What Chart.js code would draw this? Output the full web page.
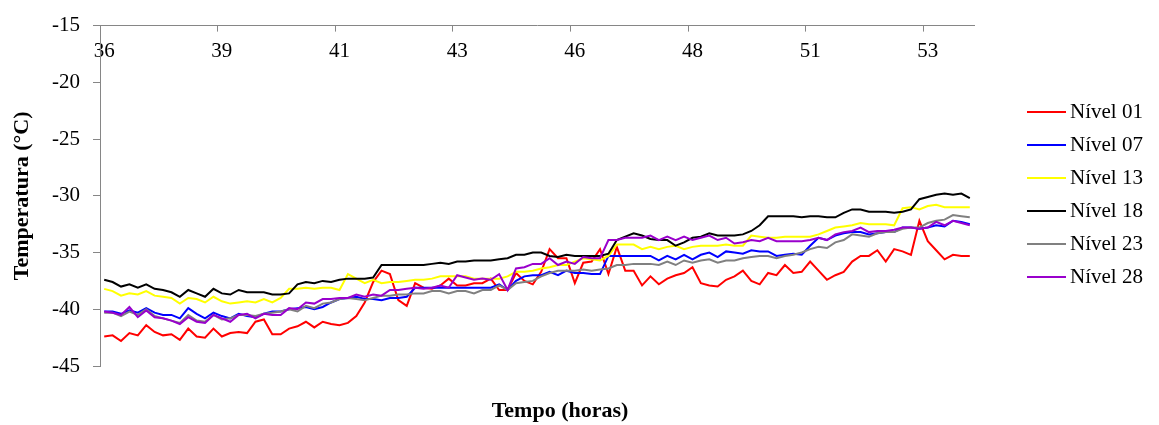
<!DOCTYPE html>
<html lang="pt">
<head>
<meta charset="utf-8">
<title>Temperatura por nível</title>
<script src="https://cdn.jsdelivr.net/npm/chart.js@4.4.1/dist/chart.umd.min.js"></script>
<style>
  html, body { margin: 0; padding: 0; background: #fff; }
  canvas { display: block; }
</style>
</head>
<body>
<canvas id="tempChart" width="1159" height="425"></canvas>
<script>
// --- Dados ---
// rótulos do eixo do tempo (um a cada 14 leituras)
const xTickLabels = ['36', '39', '41', '43', '46', '48', '51', '53'];
const samplesPerTick = 14;

const seriesNames = ['Nível 01', 'Nível 07', 'Nível 13', 'Nível 18', 'Nível 23', 'Nível 28'];

const nivel01 = [
  -42.4, -42.3, -42.8, -42.1, -42.3, -41.4, -42.0, -42.3, -42.2, -42.7,
  -41.7, -42.4, -42.5, -41.7, -42.4, -42.1, -42.0, -42.1, -41.1, -40.9,
  -42.2, -42.2, -41.7, -41.5, -41.1, -41.6, -41.1, -41.3, -41.4, -41.2,
  -40.6, -39.4, -37.6, -36.6, -36.9, -39.2, -39.7, -37.7, -38.1, -38.2,
  -37.9, -37.3, -37.9, -37.9, -37.7, -37.7, -37.3, -38.3, -38.3, -36.8,
  -37.5, -37.8, -36.7, -34.7, -35.5, -35.5, -37.7, -35.9, -35.8, -34.7,
  -36.9, -34.5, -36.6, -36.6, -37.9, -37.1, -37.8, -37.3, -37.0, -36.8,
  -36.3, -37.7, -37.9, -38.0, -37.4, -37.1, -36.6, -37.5, -37.8, -36.8,
  -37.0, -36.1, -36.8, -36.7, -35.8, -36.6, -37.4, -37.0, -36.7, -35.8,
  -35.3, -35.3, -34.8, -35.8, -34.7, -34.9, -35.2, -32.2, -34.0, -34.8,
  -35.6, -35.2, -35.3, -35.3
];
const nivel07 = [
  -40.2, -40.2, -40.4, -40.1, -40.3, -39.9, -40.3, -40.5, -40.5, -40.8,
  -39.9, -40.4, -40.8, -40.3, -40.6, -40.8, -40.4, -40.6, -40.7, -40.4,
  -40.2, -40.2, -40.0, -39.9, -39.8, -40.0, -39.8, -39.4, -39.1, -39.0,
  -38.9, -39.1, -39.1, -39.2, -39.0, -39.0, -38.9, -38.1, -38.1, -38.1,
  -38.1, -38.1, -38.1, -38.1, -38.1, -38.1, -38.1, -37.8, -38.3, -37.5,
  -37.1, -37.0, -37.0, -36.7, -37.0, -36.6, -36.8, -36.8, -36.9, -36.9,
  -35.3, -35.3, -35.3, -35.3, -35.3, -35.3, -35.7, -35.3, -35.6, -35.2,
  -35.6, -35.2, -35.0, -35.4, -34.9, -35.0, -35.1, -34.8, -34.9, -34.9,
  -35.3, -35.2, -35.1, -35.2, -34.4, -33.7, -33.9, -33.5, -33.3, -33.2,
  -33.2, -33.4, -33.3, -33.2, -33.2, -32.8, -32.8, -32.9, -32.8, -32.6,
  -32.7, -32.2, -32.3, -32.5
];
const nivel13 = [
  -38.2, -38.4, -38.8, -38.6, -38.7, -38.4, -38.8, -38.9, -39.0, -39.5,
  -39.0, -39.1, -39.4, -38.9, -39.3, -39.5, -39.4, -39.3, -39.4, -39.1,
  -39.4, -39.0, -38.2, -38.2, -38.1, -38.2, -38.1, -38.1, -38.3, -36.9,
  -37.3, -37.7, -37.4, -37.7, -37.6, -37.6, -37.5, -37.4, -37.4, -37.3,
  -37.1, -37.1, -37.1, -37.1, -37.3, -37.3, -37.3, -37.3, -37.1, -36.7,
  -36.7, -36.6, -36.4, -36.3, -36.1, -36.1, -35.8, -35.5, -35.6, -35.7,
  -35.3, -34.3, -34.3, -34.3, -34.7, -34.5, -34.7, -34.5, -34.4, -34.7,
  -34.5, -34.4, -34.4, -34.4, -34.3, -34.4, -34.4, -33.5, -33.6, -33.7,
  -33.7, -33.6, -33.6, -33.6, -33.6, -33.4, -33.1, -32.8, -32.7, -32.6,
  -32.4, -32.5, -32.5, -32.5, -32.6, -31.1, -31.0, -31.2, -30.9, -30.8,
  -31.0, -31.0, -31.0, -31.0
];
const nivel18 = [
  -37.4, -37.6, -38.0, -37.8, -38.1, -37.8, -38.2, -38.3, -38.5, -38.9,
  -38.3, -38.6, -38.9, -38.2, -38.6, -38.7, -38.3, -38.5, -38.5, -38.5,
  -38.7, -38.7, -38.6, -37.8, -37.6, -37.7, -37.5, -37.6, -37.4, -37.3,
  -37.3, -37.3, -37.2, -36.1, -36.1, -36.1, -36.1, -36.1, -36.1, -36.0,
  -35.9, -36.0, -35.8, -35.8, -35.7, -35.7, -35.7, -35.6, -35.5, -35.2,
  -35.2, -35.0, -35.0, -35.3, -35.4, -35.2, -35.3, -35.3, -35.3, -35.3,
  -35.1, -33.9, -33.6, -33.3, -33.5, -33.8, -33.9, -33.9, -34.4, -34.1,
  -33.7, -33.6, -33.3, -33.5, -33.5, -33.5, -33.4, -33.1, -32.6, -31.8,
  -31.8, -31.8, -31.8, -31.9, -31.8, -31.8, -31.9, -31.9, -31.5, -31.2,
  -31.2, -31.4, -31.4, -31.4, -31.5, -31.4, -31.2, -30.3, -30.1, -29.9,
  -29.8, -29.9, -29.8, -30.2
];
const nivel23 = [
  -40.3, -40.3, -40.6, -40.2, -40.5, -40.0, -40.6, -40.8, -41.0, -41.2,
  -40.5, -41.0, -41.1, -40.5, -40.9, -40.8, -40.5, -40.5, -40.6, -40.4,
  -40.3, -40.2, -40.0, -40.2, -39.7, -39.9, -39.5, -39.4, -39.1, -39.0,
  -39.1, -39.2, -39.0, -38.8, -38.8, -38.7, -38.7, -38.6, -38.6, -38.4,
  -38.4, -38.6, -38.4, -38.4, -38.6, -38.3, -38.3, -37.9, -38.3, -37.7,
  -37.6, -37.5, -37.1, -36.8, -36.6, -36.6, -36.6, -36.5, -36.6, -36.5,
  -36.4, -36.1, -36.1, -36.0, -36.0, -36.0, -36.1, -35.8, -36.1, -35.7,
  -35.9, -35.7, -35.6, -35.9, -35.7, -35.7, -35.5, -35.4, -35.3, -35.3,
  -35.5, -35.3, -35.2, -35.0, -34.7, -34.5, -34.6, -34.1, -33.9, -33.4,
  -33.5, -33.6, -33.3, -33.2, -33.2, -32.9, -32.8, -32.8, -32.4, -32.2,
  -32.1, -31.7, -31.8, -31.9
];
const nivel28 = [
  -40.2, -40.3, -40.5, -39.8, -40.7, -40.1, -40.7, -40.8, -41.0, -41.3,
  -40.7, -41.1, -41.2, -40.5, -40.8, -41.1, -40.5, -40.4, -40.8, -40.4,
  -40.5, -40.5, -39.9, -40.0, -39.4, -39.5, -39.1, -39.1, -39.0, -39.0,
  -38.7, -38.9, -38.7, -38.8, -38.3, -38.3, -38.2, -38.1, -38.2, -38.1,
  -37.9, -38.1, -37.0, -37.2, -37.4, -37.3, -37.4, -36.9, -38.3, -36.4,
  -36.3, -36.0, -36.0, -35.5, -36.1, -35.8, -36.0, -35.4, -35.5, -35.5,
  -33.9, -33.9, -33.7, -33.7, -33.7, -33.5, -33.9, -33.6, -33.9, -33.6,
  -33.9, -33.7, -33.5, -33.9, -33.7, -34.2, -34.1, -33.9, -34.0, -33.7,
  -34.0, -34.0, -34.0, -34.0, -33.9, -33.7, -33.9, -33.4, -33.2, -33.1,
  -32.8, -33.2, -33.1, -33.1, -33.0, -32.8, -32.8, -32.9, -32.8, -32.3,
  -32.6, -32.2, -32.4, -32.6
];

// --- Estilo ---
const seriesColors = ['#FF0000', '#0000FF', '#FFFF00', '#000000', '#808080', '#9900CC'];
const AXIS_COLOR = '#868686';
const FONT = '"Liberation Serif", "Times New Roman", serif';

// categorias: só as leituras marcadas recebem rótulo
const categories = nivel01.map((_, i) =>
  i % samplesPerTick === 0 ? (xTickLabels[i / samplesPerTick] || '') : '');

const allSeries = [nivel01, nivel07, nivel13, nivel18, nivel23, nivel28];

const datasets = allSeries.map((values, i) => ({
  label: seriesNames[i],
  data: values,
  borderColor: seriesColors[i],
  backgroundColor: seriesColors[i],
  borderWidth: 2,
  pointRadius: 0,
  tension: 0,
  order: allSeries.length - i   // a última série fica por cima
}));

// Legenda lateral desenhada à mão
const LEGEND_TOP = 112;
const LEGEND_STEP = 33;
const sideLegend = {
  id: 'sideLegend',
  afterDraw(chart) {
    const ctx = chart.ctx;
    ctx.save();
    ctx.font = '21px ' + FONT;
    ctx.textBaseline = 'middle';
    ctx.textAlign = 'left';
    chart.data.datasets.forEach((ds, i) => {
      const y = LEGEND_TOP + i * LEGEND_STEP;
      ctx.strokeStyle = ds.borderColor;
      ctx.lineWidth = 2;
      ctx.beginPath();
      ctx.moveTo(1027, y);
      ctx.lineTo(1066, y);
      ctx.stroke();
      ctx.fillStyle = '#000';
      ctx.fillText(ds.label, 1070, y);
    });
    ctx.restore();
  }
};

new Chart(document.getElementById('tempChart'), {
  type: 'line',
  data: { labels: categories, datasets: datasets },
  plugins: [sideLegend],
  options: {
    responsive: false,
    animation: false,
    devicePixelRatio: 1,
    layout: { padding: { left: 0, right: 39, top: 0, bottom: 0 } },
    plugins: {
      legend: { display: false },
      tooltip: { enabled: false },
      title: {
        display: true,
        position: 'bottom',
        text: 'Tempo (horas)',
        color: '#000',
        font: { family: FONT, size: 22, weight: 'bold' },
        padding: { top: 32.6, bottom: 0 }
      }
    },
    scales: {
      x: {
        type: 'category',
        position: 'top',
        offset: true,
        border: { display: true, color: AXIS_COLOR, width: 1 },
        grid: {
          display: true,
          offset: true,
          drawOnChartArea: false,
          drawTicks: true,
          tickLength: -6,
          tickColor: (ctx) => ctx.index % samplesPerTick === 0 ? AXIS_COLOR : 'rgba(0,0,0,0)'
        },
        ticks: {
          autoSkip: false,
          maxRotation: 0,
          minRotation: 0,
          mirror: true,
          padding: 13,
          color: '#000',
          font: { family: FONT, size: 21 }
        },
        afterFit(scale) {
          scale.height = 22;
          scale.paddingLeft = 0;
          scale.paddingRight = 0;
        }
      },
      y: {
        position: 'left',
        min: -45,
        max: -15,
        border: { display: true, color: AXIS_COLOR, width: 1 },
        grid: {
          display: true,
          drawOnChartArea: false,
          drawTicks: true,
          tickLength: 7,
          tickColor: AXIS_COLOR
        },
        ticks: {
          stepSize: 5,
          padding: 13,
          color: '#000',
          font: { family: FONT, size: 21 }
        },
        title: {
          display: true,
          text: 'Temperatura (°C)',
          color: '#000',
          font: { family: FONT, size: 22, weight: 'bold' },
          padding: { top: 9, bottom: 0 }
        },
        afterFit(scale) {
          scale.width = 100;
        }
      },
      // eixo vazio que reserva o espaço da legenda
      reserva: {
        type: 'linear',
        position: 'right',
        display: true,
        border: { display: false },
        grid: { display: false },
        ticks: { display: false },
        afterFit(scale) {
          scale.width = 146;
        }
      }
    }
  }
});
</script>
</body>
</html>
